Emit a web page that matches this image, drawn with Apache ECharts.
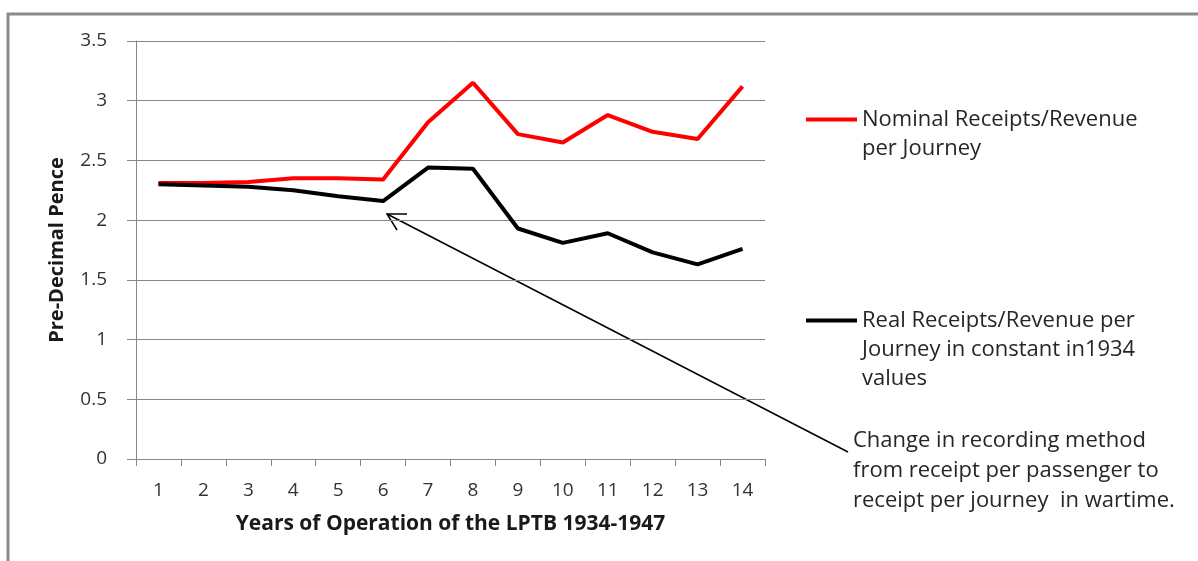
<!DOCTYPE html>
<html>
<head>
<meta charset="utf-8">
<script src="https://cdn.jsdelivr.net/npm/echarts@6/dist/echarts.min.js"></script>
<style>
  html, body { margin: 0; padding: 0; background: #fff; }
  #chart { width: 1198px; height: 561px; }
</style>
</head>
<body>
<div id="chart"></div>
<script>
const years = ['1', '2', '3', '4', '5', '6', '7', '8', '9', '10', '11', '12', '13', '14']
const nominal = [2.31, 2.31, 2.32, 2.35, 2.35, 2.34, 2.82, 3.15, 2.72, 2.65, 2.88, 2.74, 2.68, 3.12]
const real = [2.30, 2.29, 2.28, 2.25, 2.20, 2.16, 2.44, 2.43, 1.93, 1.81, 1.89, 1.73, 1.63, 1.76]
const nominalName = 'Nominal Receipts/Revenue\nper Journey'
const realName = 'Real Receipts/Revenue per\nJourney in constant in1934\nvalues'
const note = 'Change in recording method\nfrom receipt per passenger to\nreceipt per journey  in wartime.'

const font = '"Open Sans", Lato, sans-serif'
const gray = '#868686'
const chart = echarts.init(document.getElementById('chart'))

// legend icon sits beside the first text line: pad above with blank lines
function padLines(name) {
    const n = name.split('\n').length
    return ' \n'.repeat(n - 1) + name
}

function legendFor(name, top) {
    return {
        data: [name],
        left: 806,
        top: top,
        padding: 0,
        icon: 'rect',
        itemWidth: 51,
        itemHeight: 4,
        formatter: padLines,
        textStyle: { fontFamily: font, fontSize: 22, color: '#262626', lineHeight: 29 }
    }
}

const option = {
    backgroundColor: '#fff',
    animation: false,
    textStyle: { fontFamily: font },
    grid: { left: 136, top: 41, width: 629, height: 418 },
    legend: [legendFor(nominalName, 76), legendFor(realName, 248)],
    xAxis: {
        type: 'category',
        data: years,
        boundaryGap: true,
        name: 'Years of Operation of the LPTB 1934-1947',
        nameLocation: 'middle',
        nameGap: 55,
        nameTextStyle: { fontFamily: font, fontSize: 21, fontWeight: 'bold', color: '#1a1a1a' },
        axisLine: { lineStyle: { color: gray, width: 1 } },
        axisTick: { show: true, length: 7, lineStyle: { color: gray } },
        axisLabel: { margin: 22, fontSize: 19, color: '#333' }
    },
    yAxis: {
        type: 'value',
        min: 0,
        max: 3.5,
        interval: 0.5,
        name: 'Pre-Decimal Pence',
        nameLocation: 'middle',
        nameGap: 69,
        nameTextStyle: { fontFamily: font, fontSize: 20, fontWeight: 'bold', color: '#1a1a1a' },
        axisLine: { show: true, lineStyle: { color: gray, width: 1 } },
        axisTick: { show: true, length: 9, lineStyle: { color: gray } },
        splitLine: { lineStyle: { color: gray, width: 1 } },
        axisLabel: { margin: 29, fontSize: 19, color: '#333' }
    },
    series: [
        {
            name: nominalName,
            type: 'line',
            data: nominal,
            symbol: 'none',
            lineStyle: { color: '#ff0000', width: 4 },
            itemStyle: { color: '#ff0000' }
        },
        {
            name: realName,
            type: 'line',
            data: real,
            symbol: 'none',
            lineStyle: { color: '#000000', width: 4 },
            itemStyle: { color: '#000000' }
        }
    ],
    graphic: [
        // outer frame (only top and left edges show in the picture)
        {
            type: 'polyline',
            shape: { points: [[8, 561], [8, 14], [1198, 14]] },
            style: { stroke: '#8a8a8a', lineWidth: 3, fill: null }
        },
        // annotation arrow
        {
            type: 'line',
            shape: { x1: 387, y1: 214, x2: 848, y2: 452 },
            style: { stroke: '#000', lineWidth: 1.5 }
        },
        {
            type: 'polyline',
            shape: { points: [[407, 214], [387, 214], [397, 230]] },
            style: { stroke: '#000', lineWidth: 1.5, fill: null }
        },
        {
            type: 'text',
            left: 853,
            top: 426,
            style: { text: note, fontFamily: font, fontSize: 22, lineHeight: 30, fill: '#262626' }
        }
    ]
}
chart.setOption(option)
</script>
</body>
</html>
